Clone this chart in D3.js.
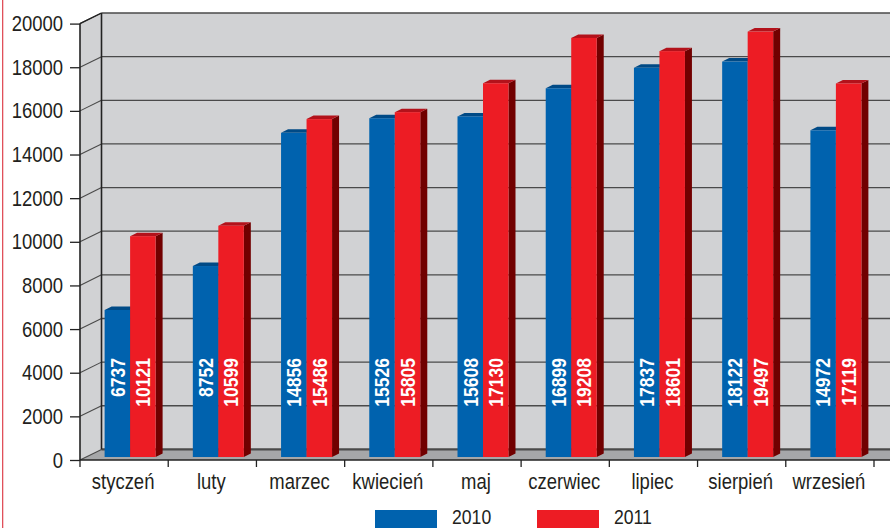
<!DOCTYPE html>
<html>
<head>
<meta charset="utf-8">
<script src="https://cdn.jsdelivr.net/npm/d3@7"></script>
<style>
  html, body { margin: 0; padding: 0; background: #fff; }
  svg { display: block; }
  text { font-family: "Liberation Sans", Arial, sans-serif; }
</style>
</head>
<body>
<svg id="chart" width="890" height="528"></svg>
<script>
const categories = ["styczeń", "luty", "marzec", "kwiecień", "maj", "czerwiec", "lipiec", "sierpień", "wrzesień"];
const values2010 = [6737, 8752, 14856, 15526, 15608, 16899, 17837, 18122, 14972];
const values2011 = [10121, 10599, 15486, 15805, 17130, 19208, 18601, 19497, 17119];
const seriesNames = ["2010", "2011"];
const yTicks = [0, 2000, 4000, 6000, 8000, 10000, 12000, 14000, 16000, 18000, 20000];

const colors = {
  front: ["#0062ae", "#ed1c24"],
  top: ["#004a86", "#b3121b"],
  side: ["#003a6b", "#710000"],
  wall: "#d1d2d4",
  floor: "#a6a7a9",
  grid: "#4a4a4a",
  text: "#231f20"
};
const NARROW = 0.84;   // condensed look

const svg = d3.select("#chart");

// geometry
const x0 = 80, x1 = 874;
const y = d3.scaleLinear().domain([0, 20000]).range([460, 23.6]);
const x = d3.scaleBand().domain(categories).range([x0, x1]).padding(0);
const depth = { dx: 21.5, dy: -10.6 };   // back wall offset
const barOff = { dx: 6, dy: -3 };        // bar front-face offset
const barDepth = { dx: 7, dy: -3.5 };    // bar side depth
const barW = 25.5;

// left red border
svg.append("rect").attr("x", 2).attr("y", 0).attr("width", 1.3).attr("height", 528).attr("fill", "#e0505a");

// back wall
svg.append("rect")
  .attr("x", x0 + depth.dx).attr("y", y(20000) + depth.dy)
  .attr("width", 900).attr("height", y(0) - y(20000))
  .attr("fill", colors.wall);
// side wall
svg.append("path")
  .attr("d", `M${x0},${y(20000)}L${x0 + depth.dx},${y(20000) + depth.dy}L${x0 + depth.dx},${y(0) + depth.dy}L${x0},${y(0)}Z`)
  .attr("fill", colors.wall);
// floor
svg.append("path")
  .attr("d", `M${x0},${y(0)}L${x0 + depth.dx},${y(0) + depth.dy}L${900},${y(0) + depth.dy}L${900},${y(0)}Z`)
  .attr("fill", colors.floor);

// gridlines on back wall + diagonals on side wall
const grid = svg.append("g");
yTicks.forEach(t => {
  grid.append("line")
    .attr("x1", x0 + depth.dx).attr("x2", 900)
    .attr("y1", y(t) + depth.dy).attr("y2", y(t) + depth.dy)
    .attr("stroke", colors.grid).attr("stroke-width", t === 0 ? 2.2 : 1.3);
  grid.append("line")
    .attr("x1", x0).attr("x2", x0 + depth.dx)
    .attr("y1", y(t)).attr("y2", y(t) + depth.dy)
    .attr("stroke", colors.grid).attr("stroke-width", 1.1);
});
grid.append("line").attr("x1", x0 + depth.dx).attr("x2", x0 + depth.dx)
  .attr("y1", y(20000) + depth.dy).attr("y2", y(0) + depth.dy)
  .attr("stroke", "#222").attr("stroke-width", 1.6);

// bars
const bars = svg.append("g");
const seriesVals = [values2010, values2011];
categories.forEach((c, i) => {
  const cx = x(c) + x.bandwidth() / 2 + barOff.dx;
  seriesVals.forEach((vals, s) => {
    const v = vals[i];
    const xl = cx - barW + s * barW;
    const xr = xl + barW;
    const yt = y(v) + barOff.dy;
    const yb = y(0) + barOff.dy;
    bars.append("path")
      .attr("d", `M${xr},${yt}L${xr + barDepth.dx},${yt + barDepth.dy}L${xr + barDepth.dx},${yb + barDepth.dy}L${xr},${yb}Z`)
      .attr("fill", colors.side[s]);
    bars.append("path")
      .attr("d", `M${xl},${yt}L${xl + barDepth.dx},${yt + barDepth.dy}L${xr + barDepth.dx},${yt + barDepth.dy}L${xr},${yt}Z`)
      .attr("fill", colors.top[s]);
    bars.append("rect")
      .attr("x", xl).attr("y", yt).attr("width", barW).attr("height", yb - yt)
      .attr("fill", colors.front[s]);
    bars.append("text")
      .attr("transform", `translate(${(xl + xr) / 2 + 0.5},358) rotate(-90) scale(0.9,1)`)
      .attr("text-anchor", "end")
      .attr("dominant-baseline", "central")
      .attr("fill", "#fff")
      .attr("font-weight", "bold")
      .attr("font-size", 19.5)
      .text(v);
  });
});

// left axis
const yAxis = svg.append("g")
  .attr("transform", `translate(${x0},0)`)
  .call(d3.axisLeft(y).tickValues(yTicks).tickSize(10).tickPadding(7).tickFormat(d3.format("d")));
yAxis.select(".domain").attr("stroke", "#222").attr("stroke-width", 1.6).attr("d", `M0,${y(0)}V${y(20000)}`);
yAxis.selectAll(".tick line").attr("stroke", "#222").attr("stroke-width", 1.3);
yAxis.selectAll(".tick text")
  .attr("x", 0)
  .attr("transform", `translate(-17,0) scale(${NARROW},1)`)
  .attr("font-size", 22).attr("fill", colors.text)
  .style("font-family", '"Liberation Sans", Arial, sans-serif');
svg.append("line").attr("x1", x0).attr("x2", x0 + depth.dx)
  .attr("y1", y(20000)).attr("y2", y(20000) + depth.dy)
  .attr("stroke", "#222").attr("stroke-width", 1.3);

// bottom axis
const xAxis = svg.append("g").attr("transform", `translate(0,${y(0)})`);
xAxis.append("line").attr("x1", x0).attr("x2", 890).attr("y1", 0).attr("y2", 0)
  .attr("stroke", "#222").attr("stroke-width", 1.6);
categories.concat([null]).forEach(c => {
  const bx = c ? x(c) : x1;
  xAxis.append("line").attr("x1", bx).attr("x2", bx).attr("y1", 0).attr("y2", 7)
    .attr("stroke", "#222").attr("stroke-width", 1.3);
});
xAxis.selectAll("text.cat").data(categories).join("text")
  .attr("class", "cat")
  .attr("transform", d => `translate(${x(d) + x.bandwidth() / 2 - 1},29) scale(${NARROW},1)`)
  .attr("text-anchor", "middle")
  .attr("font-size", 22)
  .attr("fill", colors.text)
  .text(d => d);

// legend
const legend = svg.append("g");
const legX = [375, 537];
seriesNames.forEach((n, s) => {
  legend.append("rect").attr("x", legX[s]).attr("y", 510).attr("width", 62).attr("height", 20)
    .attr("fill", colors.front[s]);
  legend.append("text")
    .attr("transform", `translate(${legX[s] + 77},524) scale(${NARROW},1)`)
    .attr("font-size", 21).attr("fill", colors.text).text(n);
});
</script>
</body>
</html>
